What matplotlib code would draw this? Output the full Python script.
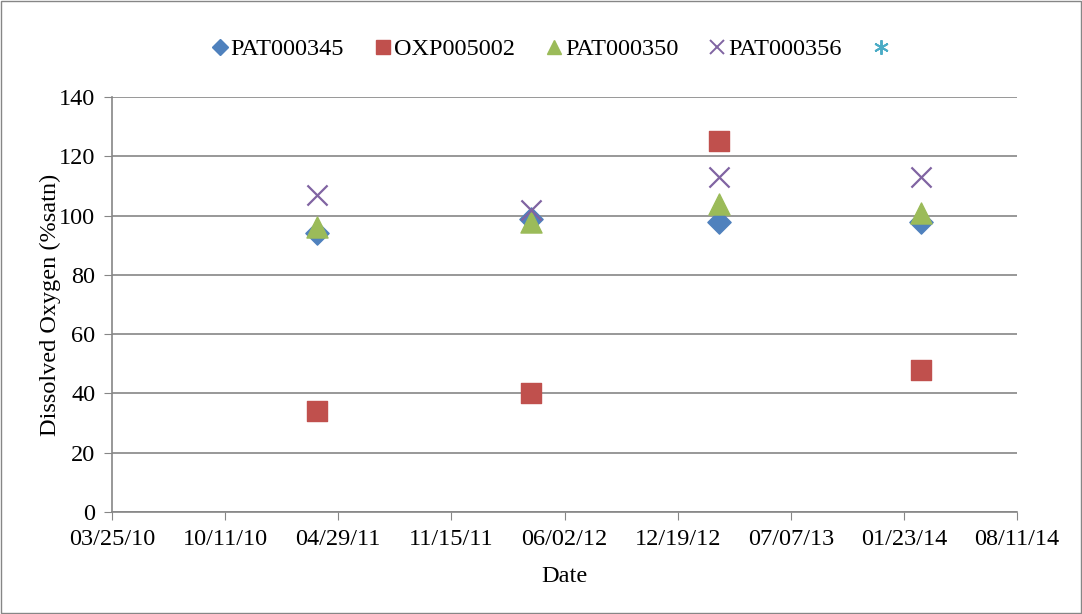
import datetime as dt
import matplotlib
matplotlib.use("Agg")
import matplotlib.pyplot as plt
import matplotlib.dates as mdates
from matplotlib.lines import Line2D

# sample dates and dissolved oxygen (%satn) per station
dates = [dt.date(2011, 3, 23), dt.date(2012, 4, 3), dt.date(2013, 3, 2), dt.date(2014, 2, 22)]
pat000345 = [94, 99, 98, 98]
oxp005002 = [34, 40, 125, 48]
pat000350 = [96, 98, 104, 101]
pat000356 = [107, 102, 113, 113]

x_start = dt.date(2010, 3, 25)
x_step_days = 200
n_ticks = 9

plt.rcParams['font.family'] = ['Liberation Serif', 'DejaVu Serif']
fs = 17.5

fig = plt.figure(figsize=(10.82, 6.14), dpi=100)
ax = fig.add_axes([0.1035, 0.166, 0.8365, 0.676])

ax.scatter(dates, pat000345, marker='D', s=140, color='#4F81BD', zorder=3)
ax.scatter(dates, oxp005002, marker='s', s=200, color='#C0504D', zorder=3)
ax.scatter(dates, pat000350, marker='^', s=230, color='#9BBB59', zorder=4)
ax.scatter(dates, pat000356, marker='x', s=210, color='#8064A2', linewidths=1.6, zorder=5)

ticks = [x_start + dt.timedelta(days=x_step_days * i) for i in range(n_ticks)]
ax.set_xlim(ticks[0], ticks[-1])
ax.set_xticks(ticks)
ax.xaxis.set_major_formatter(mdates.DateFormatter('%m/%d/%y'))
ax.set_ylim(0, 140)
ax.set_yticks(range(0, 141, 20))

ax.grid(axis='y', color='#868686', linewidth=1.2)
ax.set_axisbelow(True)
for s in ['top', 'right']:
    ax.spines[s].set_visible(False)
for s in ['left', 'bottom']:
    ax.spines[s].set_color('#868686')
    ax.spines[s].set_linewidth(1.2)
ax.tick_params(axis='both', direction='out', length=6, color='#868686', labelsize=fs)
ax.tick_params(axis='x', pad=6)
ax.tick_params(axis='y', pad=6)

ax.set_xlabel('Date', fontsize=fs)
ax.set_ylabel('Dissolved Oxygen (%satn)', fontsize=fs)
ax.xaxis.set_label_coords(0.5, -0.13)
ax.yaxis.set_label_coords(-0.056, 0.5)

handles = [
    Line2D([], [], linestyle='none', marker='D', markersize=8, color='#4F81BD'),
    Line2D([], [], linestyle='none', marker='s', markersize=9.5, color='#C0504D'),
    Line2D([], [], linestyle='none', marker='^', markersize=10.5, color='#9BBB59'),
    Line2D([], [], linestyle='none', marker='x', markersize=9.5, markeredgewidth=1.4, color='#8064A2'),
    Line2D([], [], linestyle='none', marker=(6, 2, 0), markersize=10.5, markeredgewidth=1.4, color='#4BACC6'),
]
labels = ['PAT000345', 'OXP005002', 'PAT000350', 'PAT000356', ' ']
fig.legend(handles, labels, loc='upper center', bbox_to_anchor=(0.513, 0.973), ncol=5, frameon=False,
           fontsize=fs, handlelength=0.6, handletextpad=0.15, columnspacing=1.3)

fig.patches.append(plt.Rectangle((0.001, 0.001), 0.998, 0.998, transform=fig.transFigure,
                                 fill=False, edgecolor='#868686', linewidth=1))

fig.savefig('out.png', dpi=100)
